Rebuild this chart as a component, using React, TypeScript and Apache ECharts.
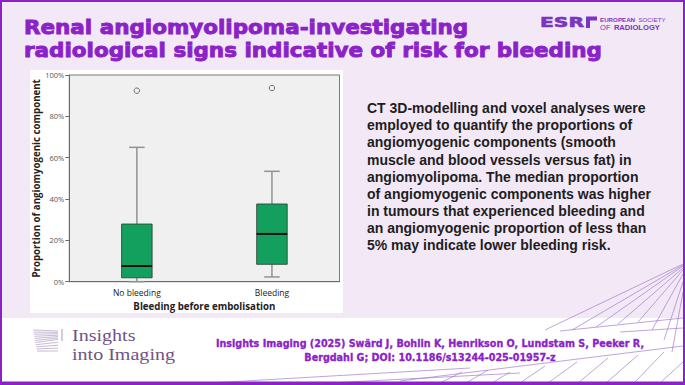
import React, { useEffect, useRef } from 'react';
import * as echarts from 'echarts';

const categories = ['No bleeding', 'Bleeding'];
// [min, Q1, median, Q3, max] in percent
const boxMin = [0, 2.3];
const boxQ1 = [1.9, 8.4];
const boxMedian = [7.6, 23.1];
const boxQ3 = [27.9, 37.6];
const boxMax = [65, 53.4];
const outlierCategory = [0, 1];
const outlierValue = [92.4, 93.7];
const yTickValues = [0, 20, 40, 60, 80, 100];

const titleLines = [
  'Renal angiomyolipoma-investigating',
  'radiological signs indicative of risk for bleeding',
];
const bodyLines = [
  'CT 3D-modelling and voxel analyses were',
  'employed to quantify the proportions of',
  'angiomyogenic components (smooth',
  'muscle and blood vessels versus fat) in',
  'angiomyolipoma. The median proportion',
  'of angiomyogenic components was higher',
  'in tumours that experienced bleeding and',
  'an angiomyogenic proportion of less than',
  '5% may indicate lower bleeding risk.',
];
const footerLines = [
  'Insights Imaging (2025) Swärd J, Bohlin K, Henrikson O, Lundstam S, Peeker R,',
  'Bergdahl G; DOI: 10.1186/s13244-025-01957-z',
];
const logoLines = ['Insights', 'into Imaging'];

const PURPLE = '#8a22c8';
const LAV = '#f3e8f6';
const DECOR = '#a47ccb';

const decorLines: number[][] = [
  [683, 264, 545, 330],
  [683, 265, 572, 330],
  [683, 266, 596, 327],
  [683, 268, 618, 324],
  [683, 270, 638, 322],
  [683, 274, 652, 330],
  [683, 282, 664, 340],
  [683, 292, 672, 352],
  [620, 332, 683, 328],
  [560, 331, 683, 318],
  [492, 383, 510, 372],
  [520, 383, 545, 366],
  [548, 383, 577, 362],
  [578, 383, 608, 358],
  [606, 383, 638, 355],
  [634, 383, 664, 352],
  [660, 383, 683, 362],
  [400, 381, 683, 346],
  [210, 383, 470, 368],
  [330, 383, 520, 373],
  [440, 383, 462, 372],
  [466, 383, 488, 370],
];

function buildGraphic() {
  const els: any[] = [];
  els.push({ type: 'rect', z: -1, shape: { x: 30, y: 70, width: 313, height: 243 }, style: { fill: '#ffffff' } });
  els.push({ type: 'rect', z: -1, shape: { x: 0, y: 318, width: 685, height: 67 }, style: { fill: '#ffffff' } });
  decorLines.forEach((l) => {
    els.push({ type: 'line', shape: { x1: l[0], y1: l[1], x2: l[2], y2: l[3] }, style: { stroke: DECOR, lineWidth: 0.7 } });
  });
  els.push({ type: 'rect', shape: { x: 1, y: 1, width: 683, height: 383 }, style: { fill: 'none', stroke: PURPLE, lineWidth: 2 } });
  els.push({ type: 'line', shape: { x1: 0, y1: 383, x2: 685, y2: 383 }, style: { stroke: PURPLE, lineWidth: 3 } });
  // title (single multi-line text, horizontally stretched)
  els.push({
    type: 'text', x: 24, y: 15.5, scaleX: 1.09,
    style: {
      text: titleLines.join('\n'), font: 'bold 19.7px "DejaVu Sans"', fill: PURPLE,
      stroke: PURPLE, lineWidth: 0.9, lineHeight: 23, verticalAlign: 'top', align: 'left',
    },
  });
  // ESR logo
  els.push({
    type: 'text', x: 540, y: 22.5, scaleX: 1.45,
    style: { text: 'ESR', font: '900 14px "DejaVu Sans"', fill: '#7b34c0', stroke: '#7b34c0', lineWidth: 0.6, verticalAlign: 'middle', align: 'left' },
  });
  els.push({ type: 'polygon', shape: { points: [[586, 16.5], [597, 16.5], [597, 20.5], [590, 20.5], [590, 28], [586, 28]] }, style: { fill: '#7b34c0' } });
  els.push({
    type: 'text', x: 600, y: 19.5,
    style: {
      text: '{a|EUROPEAN} {b|SOCIETY}', verticalAlign: 'middle', align: 'left',
      rich: {
        a: { font: 'bold 6.2px "Liberation Sans"', fill: '#7b34c0' },
        b: { font: '6.2px "Liberation Sans"', fill: '#7b34c0' },
      },
    },
  });
  els.push({
    type: 'text', x: 600, y: 27,
    style: {
      text: '{a|OF} {b|RADIOLOGY}', verticalAlign: 'middle', align: 'left',
      rich: {
        a: { font: '7.6px "Liberation Sans"', fill: '#7b34c0' },
        b: { font: 'bold 7.6px "Liberation Sans"', fill: '#7b34c0' },
      },
    },
  });
  // body paragraph
  els.push({
    type: 'text', x: 367, y: 99.8,
    style: { text: bodyLines.join('\n'), font: 'bold 14px "Liberation Sans"', fill: '#1e1e1e', lineHeight: 17.07, verticalAlign: 'top', align: 'left' },
  });
  // footer
  els.push({
    type: 'text', x: 430, y: 337,
    style: {
      text: footerLines.join('\n'), font: 'bold 9.6px "DejaVu Sans"', fill: PURPLE, stroke: PURPLE, lineWidth: 0.3,
      lineHeight: 13.5, verticalAlign: 'top', align: 'center',
    },
  });
  // Insights into Imaging logo
  for (let i = 0; i < 11; i++) {
    els.push({
      type: 'line',
      shape: { x1: 33 + i * 0.4, y1: 330 + i * 2.1, x2: 58, y2: 331 + i * 1.4 + (i > 6 ? (i - 6) * 1.5 : 0) },
      style: { stroke: '#b9a9c8', lineWidth: 0.8 },
    });
  }
  els.push({ type: 'line', shape: { x1: 62, y1: 329, x2: 62, y2: 341 }, style: { stroke: '#b9a9c8', lineWidth: 1.2 } });
  els.push({
    type: 'text', x: 72, y: 326, scaleX: 1.18,
    style: { text: logoLines.join('\n'), font: '17px "Liberation Serif"', fill: '#6e5486', lineHeight: 18.8, verticalAlign: 'top', align: 'left' },
  });
  return els;
}

export default function App() {
  const ref = useRef<HTMLDivElement>(null);
  useEffect(() => {
    const chart = echarts.init(ref.current!, undefined, { renderer: 'svg' });
    const boxData = categories.map((_, i) => [i, boxMin[i], boxQ1[i], boxMedian[i], boxQ3[i], boxMax[i]]);
    const outData = outlierCategory.map((c, i) => [c, outlierValue[i]]);
    chart.setOption({
      animation: false,
      backgroundColor: LAV,
      grid: {
        left: 69.3, top: 75, width: 270.2, height: 206.7,
        show: true, backgroundColor: '#f0f0f0', borderColor: '#7a7a7a', borderWidth: 1,
      },
      xAxis: {
        type: 'category', data: categories, boundaryGap: true,
        name: 'Bleeding before embolisation', nameLocation: 'middle', nameGap: 16,
        nameTextStyle: { fontFamily: 'Open Sans', fontWeight: 'bold', fontSize: 9.7, color: '#222' },
        axisLine: { lineStyle: { color: '#6a6a6a', width: 1 } },
        axisTick: { alignWithLabel: true, length: 5, lineStyle: { color: '#6a6a6a' } },
        axisLabel: { margin: 6, fontFamily: 'Open Sans', fontSize: 8.5, color: '#222' },
        splitLine: { show: false },
      },
      yAxis: {
        type: 'value', min: 0, max: 100, interval: 20,
        name: 'Proportion of angiomyogenic component', nameLocation: 'middle', nameGap: 28,
        nameTextStyle: { fontFamily: 'Open Sans', fontWeight: 'bold', fontSize: 9.7, color: '#222' },
        axisLine: { show: true, lineStyle: { color: '#6a6a6a', width: 1 } },
        axisTick: { show: true, length: 4, lineStyle: { color: '#6a6a6a' } },
        axisLabel: {
          margin: 5, fontFamily: 'Open Sans', fontSize: 7.5, color: '#555',
          formatter: (v: number) => (yTickValues.includes(v) ? v + '%' : ''),
        },
        splitLine: { show: false },
      },
      graphic: buildGraphic(),
      series: [
        {
          type: 'custom',
          data: boxData,
          encode: { x: 0, y: [1, 2, 3, 4, 5] },
          renderItem: (params: any, api: any) => {
            const idx = api.value(0);
            const vMin = api.coord([idx, api.value(1)]);
            const vQ1 = api.coord([idx, api.value(2)]);
            const vMed = api.coord([idx, api.value(3)]);
            const vQ3 = api.coord([idx, api.value(4)]);
            const vMax = api.coord([idx, api.value(5)]);
            const band = api.size([1, 0])[0];
            const bw = band * 0.226;
            const cw = bw * 0.51;
            const x = vMed[0];
            const wStyle = { stroke: '#929292', lineWidth: 1.5 };
            return {
              type: 'group',
              children: [
                { type: 'line', shape: { x1: x, y1: vQ3[1], x2: x, y2: vMax[1] }, style: wStyle },
                { type: 'line', shape: { x1: x, y1: vQ1[1], x2: x, y2: vMin[1] }, style: wStyle },
                { type: 'line', shape: { x1: x - cw / 2, y1: vMax[1], x2: x + cw / 2, y2: vMax[1] }, style: wStyle },
                { type: 'line', shape: { x1: x - cw / 2, y1: vMin[1], x2: x + cw / 2, y2: vMin[1] }, style: wStyle },
                {
                  type: 'rect',
                  shape: { x: x - bw / 2, y: vQ3[1], width: bw, height: vQ1[1] - vQ3[1] },
                  style: { fill: '#13a05f', stroke: '#2a3a30', lineWidth: 0.8 },
                },
                { type: 'line', shape: { x1: x - bw / 2, y1: vMed[1], x2: x + bw / 2, y2: vMed[1] }, style: { stroke: '#111', lineWidth: 2 } },
              ],
            };
          },
          z: 3,
        },
        {
          type: 'scatter',
          data: outData,
          symbol: 'circle',
          symbolSize: 5.5,
          itemStyle: { color: '#f0f0f0', borderColor: '#6a6a6a', borderWidth: 1, opacity: 1 },
          z: 4,
        },
      ],
    });
    return () => chart.dispose();
  }, []);
  return <div ref={ref} style={{ position: 'absolute', left: 0, top: 0, width: 685, height: 385 }} />;
}
